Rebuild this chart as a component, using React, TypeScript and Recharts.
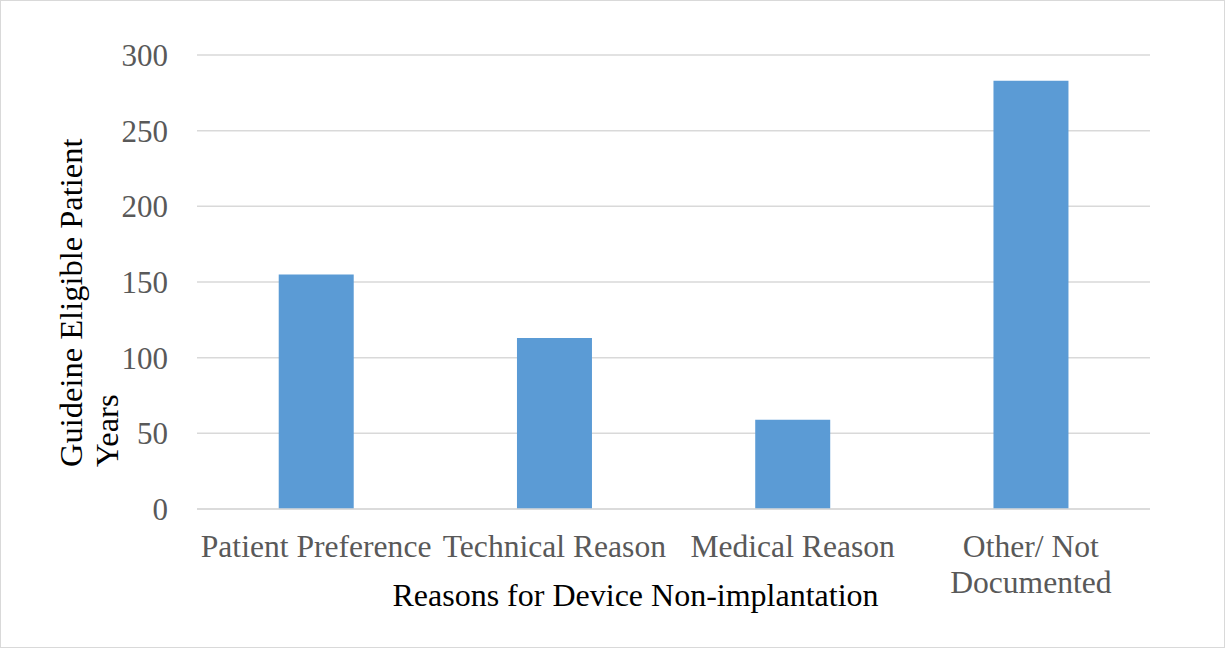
import { Bar, BarChart, CartesianGrid, XAxis, YAxis } from "recharts";

const categories = [
  "Patient Preference",
  "Technical Reason",
  "Medical Reason",
  "Other/ Not Documented",
];
const patientYears = [155, 113, 59, 283];
const yTicks = [0, 50, 100, 150, 200, 250, 300];

const xTitle = "Reasons for Device Non-implantation";
const yTitleLines = ["Guideine Eligible Patient", "Years"];

const data = categories.map((name, i) => ({ name, value: patientYears[i] }));

const FONT = "'Liberation Serif', 'Times New Roman', serif";
const TICK_GRAY = "#595959";

// greedy word wrap, so long category names go onto two lines
function wrap(label: string, maxChars = 18): string[] {
  const lines: string[] = [];
  let cur = "";
  for (const word of label.split(" ")) {
    const next = cur ? `${cur} ${word}` : word;
    if (next.length > maxChars && cur) {
      lines.push(cur);
      cur = word;
    } else {
      cur = next;
    }
  }
  if (cur) lines.push(cur);
  return lines;
}

function CategoryTick({ x, y, payload }: any) {
  const lines = wrap(String(payload.value));
  return (
    <text
      x={x}
      y={y}
      textAnchor="middle"
      fill={TICK_GRAY}
      fontFamily={FONT}
      fontSize={31.6}
    >
      {lines.map((line, i) => (
        <tspan key={line} x={x} dy={i === 0 ? 48 : 36}>
          {line}
        </tspan>
      ))}
    </text>
  );
}

function XTitle({ viewBox }: any) {
  const cx = viewBox.x + viewBox.width / 2 - 38;
  return (
    <text x={cx} y={606} textAnchor="middle" fill="#000" fontFamily={FONT} fontSize={32}>
      {xTitle}
    </text>
  );
}

function YTitle() {
  return (
    <g>
      {yTitleLines.map((line, i) => (
        <text
          key={line}
          x={82 + i * 36}
          y={467}
          transform={`rotate(-90, ${82 + i * 36}, 467)`}
          textAnchor="start"
          fill="#000"
          fontFamily={FONT}
          fontSize={32.5}
        >
          {line}
        </text>
      ))}
    </g>
  );
}

export default function App() {
  return (
    <>
      <style>{`body { margin: 0; }`}</style>
      <div
        style={{
          width: 1225,
          height: 648,
          boxSizing: "border-box",
          border: "1px solid #D9D9D9",
          background: "#fff",
          position: "relative",
        }}
      >
        <div style={{ position: "absolute", left: -1, top: -1 }}>
          <BarChart
            width={1225}
            height={648}
            data={data}
            margin={{ top: 55, right: 75, bottom: 0, left: 0 }}
            barCategoryGap="34.3%"
          >
            <CartesianGrid vertical={false} stroke="#D9D9D9" strokeWidth={1.5} />
            <XAxis
              dataKey="name"
              height={139}
              tickLine={false}
              tickSize={0}
              tickMargin={0}
              axisLine={{ stroke: "#D9D9D9", strokeWidth: 1.5 }}
              tick={<CategoryTick />}
              interval={0}
              label={<XTitle />}
            />
            <YAxis
              width={197}
              domain={[0, 300]}
              ticks={yTicks}
              axisLine={false}
              tickLine={false}
              tickSize={0}
              tickMargin={29}
              tick={{ fill: TICK_GRAY, fontFamily: FONT, fontSize: 31 }}
              label={<YTitle />}
            />
            <Bar dataKey="value" fill="#5B9BD5" isAnimationActive={false} />
          </BarChart>
        </div>
      </div>
    </>
  );
}
